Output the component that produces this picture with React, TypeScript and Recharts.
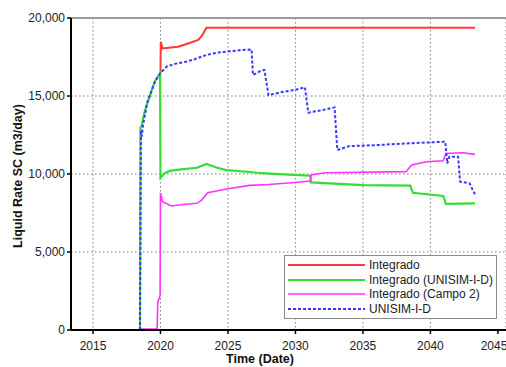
import { LineChart, Line, XAxis, YAxis, CartesianGrid, Legend, ReferenceLine } from "recharts";

const FONT = '"Liberation Sans", Arial, sans-serif';

// [year, liquid rate m3/day]
const integrado: [number, number][] = [
  [2020.0, 16450], [2020.02, 18480], [2020.15, 18050], [2020.6, 18100], [2021.3, 18160],
  [2022.0, 18350], [2022.8, 18590], [2023.1, 18900], [2023.4, 19380], [2043.3, 19380],
];

const integradoUnisim: [number, number][] = [
  [2018.48, 0], [2018.52, 13000], [2018.6, 13100], [2018.8, 13900], [2019.0, 14500],
  [2019.2, 15000], [2019.4, 15500], [2019.6, 15950], [2019.8, 16250], [2019.97, 16450],
  [2020.0, 9750], [2020.3, 10050], [2020.7, 10200], [2021.5, 10300], [2022.7, 10400],
  [2023.4, 10650], [2024.2, 10400], [2024.9, 10250], [2026.6, 10130], [2027.5, 10050],
  [2029.1, 9980], [2031.1, 9890], [2031.15, 9460], [2035.0, 9290], [2038.5, 9250],
  [2038.7, 8800], [2040.95, 8590], [2041.15, 8080], [2043.3, 8120],
];

const integradoCampo2: [number, number][] = [
  [2018.48, 60], [2019.75, 60], [2019.8, 1800], [2019.97, 2200], [2020.0, 8780],
  [2020.15, 8220], [2020.8, 7950], [2021.5, 8030], [2022.7, 8120], [2023.05, 8330],
  [2023.5, 8800], [2024.9, 9040], [2026.6, 9270], [2028.0, 9330], [2029.96, 9460],
  [2031.1, 9550], [2031.15, 9940], [2032.2, 10080], [2038.2, 10150], [2038.6, 10580],
  [2039.7, 10790], [2040.95, 10850], [2041.15, 11320], [2042.4, 11360], [2043.3, 11260],
];

const unisim: [number, number][] = [
  [2018.48, 0], [2018.55, 12800], [2018.62, 12400], [2018.7, 13100], [2019.0, 14500],
  [2019.2, 15000], [2019.6, 15950], [2020.0, 16470], [2020.45, 16880], [2021.0, 17050],
  [2021.9, 17200], [2022.5, 17350], [2023.4, 17630], [2024.2, 17780], [2024.9, 17840],
  [2026.0, 17950], [2026.75, 17980], [2026.85, 16350], [2027.4, 16600], [2027.7, 16670],
  [2028.0, 15060], [2029.0, 15250], [2030.0, 15400], [2030.7, 15560], [2030.95, 13930],
  [2032.0, 14100], [2032.9, 14270], [2033.1, 11540], [2034.0, 11790], [2036.0, 11850],
  [2038.2, 11960], [2041.1, 12070], [2041.25, 10680], [2041.4, 11110], [2042.05, 11110],
  [2042.2, 9510], [2042.9, 9400], [2043.3, 8700],
];

const xTicks = [2015, 2020, 2025, 2030, 2035, 2040, 2045];
const yTicks = [0, 5000, 10000, 15000, 20000];

const toRows = (pts: [number, number][]) => pts.map(([t, v]) => ({ t, v }));

const series = [
  { name: "Integrado", data: toRows(integrado), color: "#ff3838", width: 2 },
  { name: "Integrado (UNISIM-I-D)", data: toRows(integradoUnisim), color: "#33dd33", width: 2.2 },
  { name: "Integrado (Campo 2)", data: toRows(integradoCampo2), color: "#ff33ff", width: 1.6 },
  { name: "UNISIM-I-D", data: toRows(unisim), color: "#3838ff", width: 2, dash: "3 2" },
];

function LegendBox() {
  return (
    <div
      style={{
        background: "#fff",
        border: "1.5px solid #8a8a8a",
        width: 213,
        padding: "2px 0",
        fontFamily: FONT,
        fontSize: 12,
        color: "#222",
        boxSizing: "border-box",
      }}
    >
      {series.map(s => (
        <div key={s.name} style={{ display: "flex", alignItems: "center", height: 14.5 }}>
          <svg width={84} height={8} style={{ flexShrink: 0 }}>
            <line x1={3} y1={4} x2={80} y2={4} stroke={s.color} strokeWidth={s.width} strokeDasharray={s.dash} />
          </svg>
          <span style={{ whiteSpace: "nowrap" }}>{s.name}</span>
        </div>
      ))}
    </div>
  );
}

export default function App() {
  return (
    <div style={{ position: "absolute", left: 0, top: 0, width: 506, height: 367, background: "#fff" }}>
      <LineChart width={506} height={367} margin={{ top: 18, right: 0, bottom: 0, left: 0 }}>
        <CartesianGrid stroke="#808080" strokeDasharray="1.5 2.5" />
        <XAxis
          dataKey="t"
          type="number"
          domain={[2013.37, 2045.6]}
          ticks={xTicks}
          allowDataOverflow
          height={37}
          tickSize={4}
          tickMargin={7}
          axisLine={{ stroke: "#000", strokeWidth: 2 }}
          tickLine={{ stroke: "#000", strokeWidth: 1.5 }}
          tick={{ fill: "#222", fontSize: 12, fontFamily: FONT }}
          label={{
            content: () => (
              <text x={260} y={359} textAnchor="middle" dominantBaseline="central" fontFamily={FONT} fontSize={12.5} fontWeight="bold" fill="#111">
                Time (Date)
              </text>
            ),
          }}
        />
        <YAxis
          type="number"
          domain={[0, 20000]}
          ticks={yTicks}
          width={71}
          tickSize={4}
          tickMargin={2}
          tickFormatter={(v: number) => v.toLocaleString("en-US")}
          axisLine={{ stroke: "#000", strokeWidth: 2 }}
          tickLine={{ stroke: "#000", strokeWidth: 1.5 }}
          tick={{ fill: "#222", fontSize: 12, fontFamily: FONT }}
          label={{
            content: () => (
              <text x={18} y={176} transform="rotate(-90 18 176)" textAnchor="middle" dominantBaseline="central" fontFamily={FONT} fontSize={12.5} fontWeight="bold" fill="#111">
                Liquid Rate SC (m3/day)
              </text>
            ),
          }}
        />
        <ReferenceLine y={20000} stroke="#9a9a9a" strokeWidth={2} />
        {series.map(s => (
          <Line
            key={s.name}
            data={s.data}
            dataKey="v"
            name={s.name}
            type="linear"
            stroke={s.color}
            strokeWidth={s.width}
            strokeDasharray={s.dash}
            dot={false}
            activeDot={false}
            isAnimationActive={false}
          />
        ))}
        <Legend
          layout="horizontal"
          verticalAlign="middle"
          align="center"
          content={() => <LegendBox />}
          wrapperStyle={{ position: "absolute", left: 284, top: 255, width: 213, height: 64 }}
        />
      </LineChart>
    </div>
  );
}
